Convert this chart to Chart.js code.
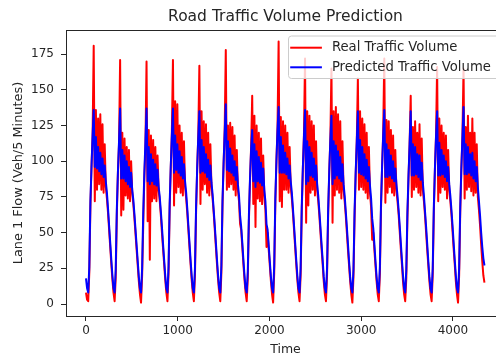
<!DOCTYPE html>
<html>
<head>
<meta charset="utf-8">
<script src="https://cdn.jsdelivr.net/npm/chart.js@4.4.0/dist/chart.umd.min.js"></script>
<style>
  html, body { margin: 0; padding: 0; background: #fff; overflow: hidden; }
  #wrap { width: 512px; height: 360px; }
</style>
</head>
<body>
<div id="wrap"><canvas id="trafficChart" width="512" height="360"></canvas></div>
<script>
// lane 1 flow, one sample every 12 steps (hourly), one row per day
const timeStep = 12;

const realVolume = [
  8, 3, 2,
  22, 68, 96, 118, 181, 72, 136, 80, 130, 84, 133, 80, 126, 78, 112, 82, 74, 64, 52, 40, 28, 17, 8, 2,
  18, 62, 92, 112, 171, 62, 120, 66, 116, 76, 110, 74, 108, 72, 100, 78, 70, 60, 49, 38, 27, 16, 7, 1,
  20, 55, 88, 110, 170, 58, 122, 31, 118, 72, 115, 74, 110, 72, 104, 80, 72, 62, 50, 39, 28, 17, 8, 2,
  21, 66, 95, 120, 171, 69, 142, 78, 140, 82, 125, 78, 120, 76, 114, 82, 74, 64, 52, 40, 28, 17, 8, 2,
  20, 64, 94, 118, 167, 70, 135, 80, 128, 84, 126, 78, 120, 76, 112, 82, 74, 64, 52, 40, 28, 17, 8, 2,
  22, 68, 98, 122, 178, 80, 125, 82, 127, 84, 124, 80, 118, 76, 108, 80, 72, 56, 52, 40, 28, 17, 8, 2,
  18, 58, 86, 110, 146, 70, 132, 54, 125, 74, 120, 72, 116, 70, 104, 76, 66, 40, 50, 38, 27, 16, 7, 1,
  22, 70, 100, 124, 184, 72, 131, 68, 128, 80, 125, 80, 120, 78, 110, 82, 74, 64, 52, 40, 28, 17, 8, 2,
  20, 64, 94, 118, 172, 57, 135, 69, 132, 78, 128, 80, 125, 76, 114, 80, 72, 62, 50, 39, 28, 16, 7, 2,
  20, 62, 92, 116, 165, 57, 135, 76, 138, 80, 133, 78, 128, 74, 114, 80, 72, 62, 50, 38, 27, 16, 7, 1,
  19, 60, 90, 114, 158, 80, 135, 82, 130, 80, 126, 78, 120, 74, 110, 78, 68, 45, 50, 38, 27, 16, 7, 2,
  21, 66, 96, 120, 172, 71, 129, 78, 128, 82, 122, 78, 118, 76, 108, 80, 72, 63, 51, 39, 28, 16, 7, 2,
  18, 60, 88, 112, 146, 75, 124, 80, 128, 82, 120, 78, 126, 76, 116, 80, 72, 62, 50, 38, 27, 16, 7, 2,
  20, 64, 94, 118, 166, 72, 130, 78, 125, 82, 120, 80, 118, 74, 108, 80, 72, 63, 51, 39, 28, 16, 7, 1,
  20, 64, 94, 118, 165, 74, 124, 80, 132, 82, 120, 79, 130, 76, 120, 78, 112, 75, 66, 55, 42, 30, 20, 15,
];

const predictedVolume = [
  18, 11, 8,
  26, 72, 96, 118, 136, 96, 117, 95, 110, 93, 106, 91, 102, 89, 97, 86, 78, 67, 55, 43, 31, 20, 11, 8,
  24, 66, 92, 114, 137, 88, 108, 88, 104, 86, 100, 84, 96, 82, 92, 80, 73, 63, 52, 41, 30, 19, 11, 8,
  25, 64, 92, 114, 137, 86, 110, 84, 105, 86, 101, 84, 98, 83, 94, 82, 75, 65, 54, 42, 31, 20, 11, 8,
  26, 70, 96, 118, 137, 92, 118, 94, 112, 92, 107, 90, 103, 88, 98, 86, 78, 67, 55, 43, 31, 20, 11, 8,
  25, 68, 95, 117, 135, 92, 115, 93, 110, 92, 105, 89, 101, 87, 97, 85, 77, 66, 55, 43, 31, 20, 11, 8,
  27, 72, 98, 120, 140, 94, 114, 93, 109, 92, 104, 90, 100, 87, 96, 84, 76, 62, 54, 43, 31, 20, 11, 8,
  23, 62, 88, 108, 122, 86, 112, 82, 107, 86, 103, 85, 99, 83, 95, 80, 72, 56, 52, 41, 30, 19, 11, 8,
  27, 74, 100, 122, 138, 92, 117, 92, 111, 92, 106, 91, 102, 88, 97, 86, 78, 67, 55, 43, 31, 20, 11, 8,
  25, 68, 95, 117, 136, 84, 114, 86, 110, 90, 106, 89, 102, 87, 97, 84, 76, 65, 54, 42, 31, 19, 11, 8,
  25, 66, 93, 115, 132, 84, 114, 88, 111, 90, 107, 88, 103, 86, 98, 84, 76, 65, 54, 42, 30, 19, 11, 8,
  24, 65, 92, 114, 135, 92, 115, 91, 110, 90, 105, 88, 101, 86, 96, 83, 74, 60, 53, 42, 30, 19, 11, 8,
  26, 70, 96, 118, 136, 89, 112, 89, 108, 90, 104, 88, 100, 86, 95, 84, 76, 66, 55, 43, 31, 20, 11, 8,
  24, 64, 90, 112, 135, 90, 112, 90, 110, 91, 105, 89, 104, 87, 99, 85, 76, 65, 54, 42, 30, 19, 11, 8,
  25, 68, 95, 117, 135, 90, 113, 90, 108, 91, 104, 89, 100, 86, 96, 84, 76, 66, 55, 43, 31, 20, 11, 8,
  25, 68, 95, 117, 138, 91, 112, 91, 110, 92, 105, 90, 106, 88, 100, 86, 96, 82, 72, 62, 50, 40, 32, 27,
];

const xTicks = [0, 1000, 2000, 3000, 4000];
const yTicks = [0, 25, 50, 75, 100, 125, 150, 175];

const inkColor = "#262626";
const fontFamily = "DejaVu Sans";

const toPoints = (values) => values.map((v, i) => ({ x: i * timeStep, y: v }));

// top/right spines and a boxed legend in the upper right of the plot
const framePlugin = {
  id: "frameAndLegend",
  afterDraw: (chart) => {
    const ctx = chart.ctx;
    const area = chart.chartArea;

    ctx.save();
    ctx.strokeStyle = inkColor;
    ctx.lineWidth = 1;
    ctx.beginPath();
    ctx.moveTo(area.left, area.top + 0.5);
    ctx.lineTo(area.right, area.top + 0.5);
    ctx.lineTo(area.right, area.bottom);
    ctx.stroke();

    // legend box
    const right = area.right - 6;
    const left = right - 210.5;
    const top = area.top + 6;
    const rowGap = 19.6;
    const bottom = top + 11.7 + rowGap + 11.2;

    const r = 3;
    ctx.beginPath();
    ctx.moveTo(left + r, top);
    ctx.lineTo(right - r, top);
    ctx.quadraticCurveTo(right, top, right, top + r);
    ctx.lineTo(right, bottom - r);
    ctx.quadraticCurveTo(right, bottom, right - r, bottom);
    ctx.lineTo(left + r, bottom);
    ctx.quadraticCurveTo(left, bottom, left, bottom - r);
    ctx.lineTo(left, top + r);
    ctx.quadraticCurveTo(left, top, left + r, top);
    ctx.closePath();
    ctx.fillStyle = "rgba(255,255,255,0.8)";
    ctx.fill();
    ctx.strokeStyle = "#cccccc";
    ctx.lineWidth = 1;
    ctx.stroke();

    ctx.font = `13.2px "${fontFamily}"`;
    chart.data.datasets.forEach((d, i) => {
      const y = top + 11.7 + i * rowGap;
      ctx.beginPath();
      ctx.moveTo(left + 1.7, y);
      ctx.lineTo(left + 33.4, y);
      ctx.strokeStyle = d.borderColor;
      ctx.lineWidth = 2;
      ctx.stroke();
      ctx.fillStyle = inkColor;
      ctx.textBaseline = "middle";
      ctx.textAlign = "left";
      ctx.fillText(d.label, left + 43.4, y);
    });
    ctx.restore();
  },
};

new Chart(document.getElementById("trafficChart").getContext("2d"), {
  type: "line",
  data: {
    datasets: [
      {
        label: "Real Traffic Volume",
        data: toPoints(realVolume),
        borderColor: "#ff0000",
        borderWidth: 2,
        borderJoinStyle: "round",
        pointRadius: 0,
        tension: 0,
        order: 2, // drawn underneath
      },
      {
        label: "Predicted Traffic Volume",
        data: toPoints(predictedVolume),
        borderColor: "#0000ff",
        borderWidth: 2,
        borderJoinStyle: "round",
        pointRadius: 0,
        tension: 0,
        order: 1,
      },
    ],
  },
  options: {
    responsive: false,
    animation: false,
    layout: { padding: { left: 0, right: 7, top: 0, bottom: 0 } },
    plugins: {
      legend: { display: false },
      tooltip: { enabled: false },
      title: {
        display: true,
        text: "Road Traffic Volume Prediction",
        color: inkColor,
        fullSize: false,
        font: { family: fontFamily, size: 15.5, weight: "normal", lineHeight: 1.2 },
        padding: { top: 7.5, bottom: 3.9 },
      },
    },
    scales: {
      x: {
        type: "linear",
        min: -218,
        max: 4568,
        afterBuildTicks: (s) => { s.ticks = xTicks.map((v) => ({ value: v })); },
        afterFit: (s) => { s.height = 44; },
        ticks: {
          color: inkColor,
          font: { family: fontFamily, size: 12 },
          padding: 3,
          autoSkip: false,
          maxRotation: 0,
          callback: (v) => String(v),
        },
        grid: { drawOnChartArea: false, drawTicks: true, tickLength: 5, tickColor: inkColor },
        border: { color: inkColor, width: 1 },
        title: {
          display: true,
          text: "Time",
          color: inkColor,
          font: { family: fontFamily, size: 12.5 },
          padding: { top: 0, bottom: 3 },
        },
      },
      y: {
        min: -8.4,
        max: 192,
        afterBuildTicks: (s) => { s.ticks = yTicks.map((v) => ({ value: v })); },
        afterFit: (s) => { s.width = 66; },
        ticks: {
          color: inkColor,
          font: { family: fontFamily, size: 12 },
          padding: 7,
          autoSkip: false,
          callback: (v) => String(v),
        },
        grid: { drawOnChartArea: false, drawTicks: true, tickLength: 5, tickColor: inkColor },
        border: { color: inkColor, width: 1 },
        title: {
          display: true,
          text: "Lane 1 Flow (Veh/5 Minutes)",
          color: inkColor,
          font: { family: fontFamily, size: 12.9 },
          padding: { top: 11, bottom: 0 },
        },
      },
    },
  },
  plugins: [framePlugin],
});
</script>
</body>
</html>
